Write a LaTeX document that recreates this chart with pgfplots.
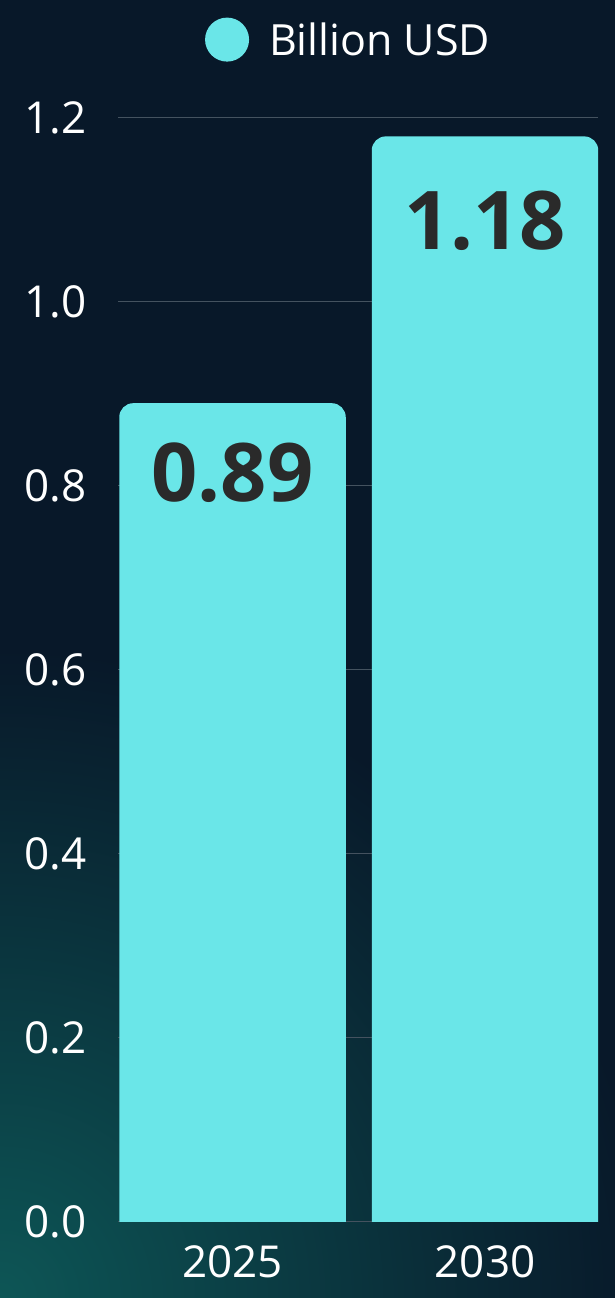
\documentclass[border=0pt]{standalone}
\usepackage{pgfplots}
\pgfplotsset{compat=1.18}
\usepackage{fontspec}
\setmainfont{Open Sans}
\definecolor{bg}{HTML}{081829}
\definecolor{bgteal}{HTML}{0D5656}
\definecolor{barcol}{HTML}{6AE6E8}
\definecolor{gridcol}{HTML}{44525F}
\definecolor{valcol}{HTML}{2A2A2A}

\makeatletter
\def\roundtoprect#1#2{%
  \pgf@process{#1}%
  \edef\rt@l{\the\pgf@x}\edef\rt@b{\the\pgf@y}%
  \pgf@process{#2}%
  \pgf@xa=\rt@l\relax\advance\pgf@xa by\pgf@x
  \pgf@ya=\rt@b\relax\advance\pgf@ya by\pgf@y
  \edef\rt@r{\the\pgf@xa}\edef\rt@t{\the\pgf@ya}%
  \pgf@ya=\rt@b\relax\advance\pgf@ya by -30pt
  \edef\rt@bb{\the\pgf@ya}%
  \pgfsetcornersarced{\pgfqpoint{14pt}{14pt}}%
  \pgfpathmoveto{\pgfqpoint{\rt@l}{\rt@bb}}%
  \pgfpathlineto{\pgfqpoint{\rt@l}{\rt@t}}%
  \pgfpathlineto{\pgfqpoint{\rt@r}{\rt@t}}%
  \pgfpathlineto{\pgfqpoint{\rt@r}{\rt@bb}}%
  \pgfpathclose
  \pgfsetcornersarced{\pgfpointorigin}%
}
\makeatother

\pgfplotstableread{
x year v
0 2025 0.89
1 2030 1.18
}\datatable

\begin{document}
\begin{tikzpicture}
\useasboundingbox (0,0) rectangle (615pt,1298pt);
\fill[bg] (0,0) rectangle (615pt,1298pt);
\begin{scope}
\clip (0,0) rectangle (615pt,1298pt);
\shade[inner color=bgteal, outer color=bg] (0,0) circle (650pt);
\end{scope}
\begin{axis}[
  at={(118pt,76pt)}, anchor=south west,
  scale only axis, width=480pt, height=1104pt,
  ybar, bar width=226.5pt,
  xmin=-0.4535, xmax=1.4475, ymin=0, ymax=1.2,
  xtick={0,1}, xticklabels={2025,2030},
  ytick={0,0.2,0.4,0.6,0.8,1.0,1.2},
  yticklabel={\pgfmathprintnumber[fixed,fixed zerofill,precision=1]{\tick}},
  /pgf/number format/assume math mode=true,
  major tick length=0pt,
  axis line style={draw=none},
  ymajorgrids, grid style={draw=gridcol, line width=1pt},
  tick label style={font=\fontsize{44}{52}\selectfont, color=white},
  xticklabel style={inner sep=0pt, anchor=north, yshift=-23pt},
  yticklabel style={inner sep=0pt, anchor=east, xshift=-31pt},
  legend style={at={(axis description cs:0.181,1.071)}, anchor=west,
    draw=none, fill=none, text=white, inner sep=0pt,
    font=\fontsize{43}{50}\selectfont},
  legend image code/.code={\fill[barcol] (0pt,0pt) circle (22pt); \path (40pt,0pt);},
]
\addplot[fill=barcol, draw=none,
  /utils/exec={\let\pgfpathrectangle\roundtoprect},
  visualization depends on={y \as \val},
  point meta=y,
  nodes near coords={\pgfmathprintnumber[fixed,fixed zerofill,precision=2]{\pgfplotspointmeta}},
  nodes near coords style={font=\fontsize{81}{90}\selectfont\bfseries, text=valcol,
    anchor=center, yshift={-(23+51.7*\val)}},
] table[x=x, y=v] {\datatable};
\addlegendentry{Billion USD}
\end{axis}
\end{tikzpicture}
\end{document}
